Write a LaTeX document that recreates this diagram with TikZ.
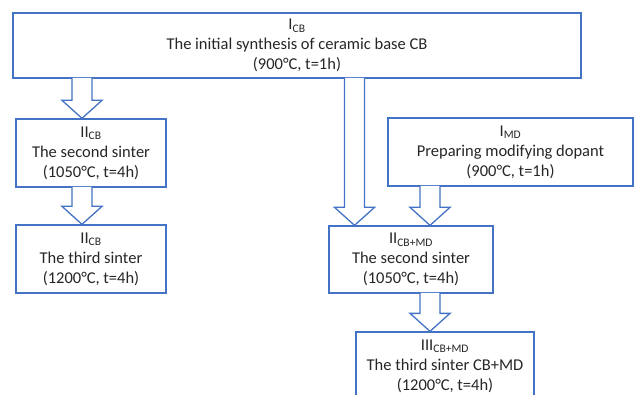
\documentclass[tikz,border=0pt]{standalone}
\usepackage{fontspec}
\setmainfont{Carlito}
\usetikzlibrary{calc}

\definecolor{boxblue}{RGB}{68,114,196}

\tikzset{
    stage/.style={draw=boxblue, line width=1.3pt, fill=white, align=center,
        inner sep=0pt, text=black!85, font=\fontsize{16.5}{20}\selectfont},
    blockarrow/.style={draw=boxblue, line width=1.3pt, fill=white, line join=miter},
}

% hollow block arrow going down at x=#1 from node #2 to node #3
\newcommand{\downblock}[3]{%
    \draw[blockarrow] let \p1=(#2.south), \p2=(#3.north) in
        (#1pt-10pt,\y1+0.8pt) -- (#1pt-10pt,\y2+18pt) -- (#1pt-20pt,\y2+18pt)
        -- (#1pt,\y2) -- (#1pt+20pt,\y2+18pt) -- (#1pt+10pt,\y2+18pt)
        -- (#1pt+10pt,\y1+0.8pt);}

\begin{document}
\begin{tikzpicture}[x=1pt, y=1pt]
    \useasboundingbox (0,0) rectangle (637,394);
    \clip (0,0) rectangle (637,394);

    % ceramic base branch
    \node[stage, minimum width=568pt, minimum height=65pt] (icb) at (297,348.5)
        {I\textsubscript{CB}\\The initial synthesis of ceramic base CB\\(900°C, t=1h)};
    \node[stage, minimum width=150pt, minimum height=68pt] (iicb) at (91,241)
        {II\textsubscript{CB}\\The second sinter\\(1050°C, t=4h)};
    \node[stage, minimum width=150pt, minimum height=68pt] (iiicb) at (91,135)
        {II\textsubscript{CB}\\The third sinter\\(1200°C, t=4h)};

    % modifying dopant branch
    \node[stage, minimum width=245pt, minimum height=68pt] (imd) at (510.5,242)
        {I\textsubscript{MD}\\Preparing modifying dopant\\(900°C, t=1h)};
    \node[stage, minimum width=164pt, minimum height=67pt] (iicbmd) at (411,134.5)
        {II\textsubscript{CB+MD}\\The second sinter\\(1050°C, t=4h)};
    \node[stage, minimum width=178pt, minimum height=68pt] (iiicbmd) at (445,28)
        {III\textsubscript{CB+MD}\\The third sinter CB+MD\\(1200°C, t=4h)};

    % block arrows
    \downblock{82}{icb}{iicb}
    \downblock{82}{iicb}{iiicb}
    \downblock{354.5}{icb}{iicbmd}
    \downblock{430}{imd}{iicbmd}
    \downblock{430}{iicbmd}{iiicbmd}
\end{tikzpicture}
\end{document}
